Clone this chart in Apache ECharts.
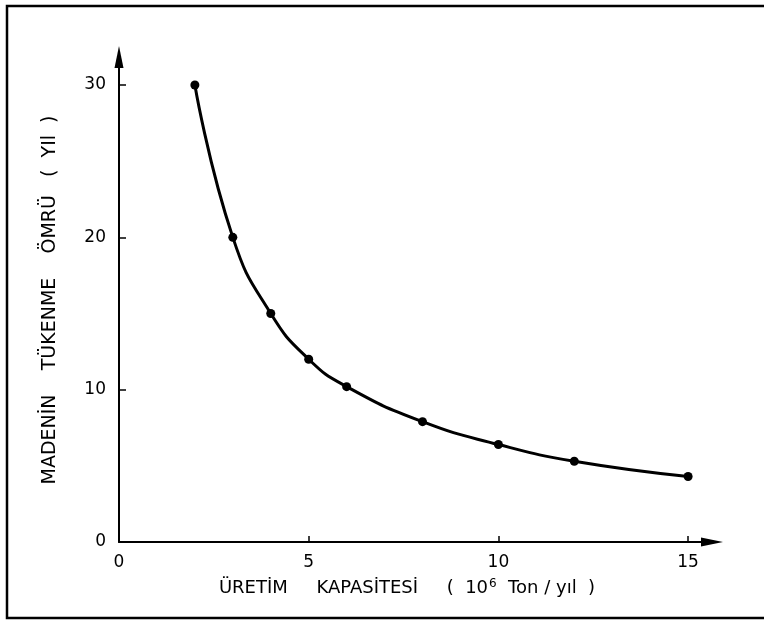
<!DOCTYPE html>
<html>
<head>
<meta charset="utf-8">
<script src="https://cdn.jsdelivr.net/npm/echarts@6/dist/echarts.min.js"></script>
<style>
  html, body { margin: 0; padding: 0; background: #fff; }
  #chart { width: 764px; height: 624px; }
</style>
</head>
<body>
<div id="chart"></div>
<script>
// kapasite (10^6 ton/yıl) ve ömür (yıl)
const capacity = [2, 3, 4, 5, 6, 8, 10, 12, 15];
const lifetime = [30, 20, 15, 12, 10.2, 7.9, 6.4, 5.3, 4.3];
const xTicks = [0, 5, 10, 15];
const yTicks = [0, 10, 20, 30];

const font = "'DejaVu Sans', sans-serif";

const chart = echarts.init(document.getElementById("chart"));
chart.setOption({
  animation: false,
  backgroundColor: "#fff",
  grid: { left: 119, right: 52, top: 57, bottom: 82 },
  xAxis: {
    type: "value",
    min: 0,
    max: 15.63,
    interval: 5,
    splitLine: { show: false },
    axisLine: {
      show: true,
      symbol: ["none", "triangle"],
      symbolSize: [9, 22],
      lineStyle: { color: "#000", width: 2 },
    },
    axisTick: {
      show: true,
      inside: true,
      length: 6,
      lineStyle: { color: "#000", width: 1.5 },
    },
    axisLabel: {
      color: "#000",
      fontFamily: font,
      fontSize: 17,
      margin: 12,
      showMaxLabel: false,
      formatter: (v) => (xTicks.includes(v) ? String(v) : ""),
    },
  },
  yAxis: {
    type: "value",
    min: 0,
    max: 31.84,
    interval: 10,
    splitLine: { show: false },
    axisLine: {
      show: true,
      symbol: ["none", "triangle"],
      symbolSize: [9, 22],
      lineStyle: { color: "#000", width: 2 },
    },
    axisTick: {
      show: true,
      inside: true,
      length: 7,
      lineStyle: { color: "#000", width: 1.5 },
    },
    axisLabel: {
      color: "#000",
      fontFamily: font,
      fontSize: 17,
      margin: 13,
      showMaxLabel: false,
      formatter: (v) => (yTicks.includes(v) ? String(v) : ""),
    },
  },
  graphic: [
    {
      type: "rect",
      shape: { x: 7, y: 6, width: 800, height: 612 },
      style: { fill: "none", stroke: "#000", lineWidth: 2.5 },
      silent: true,
    },
    {
      type: "text",
      x: 407,
      y: 588,
      style: {
        text: "ÜRETİM     KAPASİTESİ     (  10{sup|6}  Ton / yıl  )",
        fill: "#000",
        font: "18px " + font,
        align: "center",
        verticalAlign: "middle",
        rich: {
          sup: { fontSize: 12, fontFamily: font, fill: "#000", padding: [0, 0, 9, 1] },
        },
      },
    },
    {
      type: "text",
      x: 50,
      y: 300,
      rotation: Math.PI / 2,
      style: {
        text: "MADENİN    TÜKENME    ÖMRÜ   (  YIl  )",
        fill: "#000",
        font: "19px " + font,
        align: "center",
        verticalAlign: "middle",
      },
    },
  ],
  series: [
    {
      type: "line",
      data: capacity.map((c, i) => [c, lifetime[i]]),
      smooth: 0.5,
      symbol: "circle",
      symbolSize: 9,
      itemStyle: { color: "#000" },
      lineStyle: { color: "#000", width: 3 },
    },
  ],
});
</script>
</body>
</html>
